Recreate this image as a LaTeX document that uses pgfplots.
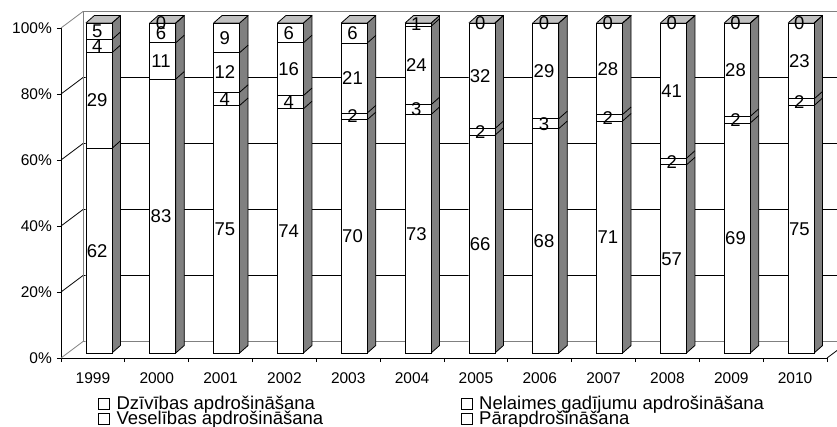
\documentclass[border=0pt]{standalone}
\usepackage{fontspec}
\setmainfont{Liberation Sans}
\usepackage{pgfplots}
\usepackage{pgfplotstable}
\pgfplotsset{compat=1.18}
\definecolor{sidegray}{HTML}{808080}
\definecolor{topgray}{HTML}{C0C0C0}
\definecolor{wallgray}{HTML}{808080}

\pgfplotstableread{
x s1 s2 s3 s4
0 62 29 4 5
1 83 11 6 0
2 75 4 12 9
3 74 4 16 6
4 70 2 21 6
5 73 3 24 1
6 66 2 32 0
7 68 3 29 0
8 71 2 28 0
9 57 2 41 0
10 69 2 28 0
11 75 2 23 0
}\data

\pgfplotstableread{
dx dy
0.2037 0
0.3369 2.273
0.3369 102.273
0.2037 100
0.2037 0
}\sideface

\pgfplotstableread{
dx dy
-0.2037 100
0.2037 100
0.3369 102.273
-0.0705 102.273
-0.2037 100
}\topface

\newcommand{\tot}{(\thisrow{s1}+\thisrow{s2}+\thisrow{s3}+\thisrow{s4})}
\pgfplotsset{legsq/.style={legend image code/.code={\draw[line width=0.8bp, draw=black, fill=white] (0bp,-5.5bp) rectangle (11.5bp,5.5bp); \path (18bp,0bp);}}}

\begin{document}
\begin{tikzpicture}
\useasboundingbox (-61bp,-69bp) rectangle (776bp,358bp);
\begin{axis}[
  at={(0,0)}, anchor=south west,
  scale only axis, width=766bp, height=330bp,
  xmin=-0.5, xmax=11.5, ymin=0, ymax=100,
  enlargelimits=false, clip=false,
  axis lines*=left, axis line style={-, line width=0.8bp, black},
  tick align=outside, major tick length=4bp,
  tick style={line width=0.8bp, black},
  xtick={-0.5,0.5,...,11.5},
  x tick label as interval,
  xticklabels={1999,2000,2001,2002,2003,2004,2005,2006,2007,2008,2009,2010},
  ytick={0,20,40,60,80,100},
  yticklabels={0\%,20\%,40\%,60\%,80\%,100\%},
  tick label style={font=\fontsize{15.5bp}{18bp}\selectfont, inner sep=0pt},
  xticklabel style={anchor=base, yshift=-21bp},
  yticklabel style={anchor=east, xshift=-5bp},
  /pgf/number format/assume math mode=true,
  legend columns=2,
  legend cell align=left,
  legend style={draw=none, fill=none, at={(0,0)}, anchor=north west, xshift=37bp, yshift=-38.6bp,
    inner sep=0pt, outer sep=0pt, column sep=0pt, row sep=1bp,
    font=\fontsize{18.5bp}{20bp}\selectfont,
    nodes={inner sep=0pt, text height=13bp, text depth=1bp, anchor=west}},
]
% walls
\addplot[forget plot, wallgray, line width=0.8bp] coordinates {(-0.5,0) (-0.155,5) (11.845,5)};
\addplot[forget plot, black, line width=0.8bp] coordinates {(11.5,0) (11.845,5)};
\addplot[forget plot, black, line width=0.8bp] coordinates {(-0.5,20) (-0.155,25) (11.845,25)};
\addplot[forget plot, black, line width=0.8bp] coordinates {(-0.5,40) (-0.155,45) (11.845,45)};
\addplot[forget plot, black, line width=0.8bp] coordinates {(-0.5,60) (-0.155,65) (11.845,65)};
\addplot[forget plot, black, line width=0.8bp] coordinates {(-0.5,80) (-0.155,85) (11.845,85)};
\addplot[forget plot, wallgray, line width=0.8bp] coordinates {(-0.5,100) (-0.155,105) (11.845,105)};
\addplot[forget plot, wallgray, line width=0.8bp] coordinates {(-0.155,5) (-0.155,105)};
% side and top faces
\pgfplotsinvokeforeach{0,...,11}{
  \addplot[forget plot, fill=sidegray, draw=black, line width=0.8bp, line join=round, xshift=6bp, yshift=5bp]
    table[x expr=\thisrow{dx}+#1, y=dy]{\sideface};
  \addplot[forget plot, fill=topgray, draw=black, line width=0.8bp, line join=round, xshift=6bp, yshift=5bp]
    table[x expr=\thisrow{dx}+#1, y=dy]{\topface};
}
% front faces (cumulative, drawn from the top down)
\addplot[forget plot, ybar, bar width=26bp, bar shift=0pt, fill=white, draw=black, line width=0.8bp, xshift=6bp, yshift=5bp]
  table[x=x, y expr={100*\tot/\tot}]{\data};
\addplot[forget plot, ybar, bar width=26bp, bar shift=0pt, fill=white, draw=black, line width=0.8bp, xshift=6bp, yshift=5bp]
  table[x=x, y expr={100*(\thisrow{s1}+\thisrow{s2}+\thisrow{s3})/\tot}]{\data};
\addplot[forget plot, ybar, bar width=26bp, bar shift=0pt, fill=white, draw=black, line width=0.8bp, xshift=6bp, yshift=5bp]
  table[x=x, y expr={100*(\thisrow{s1}+\thisrow{s2})/\tot}]{\data};
\addplot[forget plot, ybar, bar width=26bp, bar shift=0pt, fill=white, draw=black, line width=0.8bp, xshift=6bp, yshift=5bp]
  table[x=x, y expr={100*\thisrow{s1}/\tot}]{\data};
% diagonal boundaries on side faces
\addplot[forget plot, black, line width=0.8bp, xshift=6bp, yshift=5bp, quiver={u=0.1332, v=2.273}]
  table[x expr=\thisrow{x}+0.2037, y expr={100*\thisrow{s1}/\tot}]{\data};
\addplot[forget plot, black, line width=0.8bp, xshift=6bp, yshift=5bp, quiver={u=0.1332, v=2.273}]
  table[x expr=\thisrow{x}+0.2037, y expr={100*(\thisrow{s1}+\thisrow{s2})/\tot}]{\data};
\addplot[forget plot, black, line width=0.8bp, xshift=6bp, yshift=5bp, quiver={u=0.1332, v=2.273}]
  table[x expr=\thisrow{x}+0.2037, y expr={100*(\thisrow{s1}+\thisrow{s2}+\thisrow{s3})/\tot}]{\data};
% value labels
\pgfplotsset{lbl/.style={forget plot, draw=none, nodes near coords, point meta=explicit,
  every node near coord/.style={anchor=center, inner sep=0pt, text=black, font=\fontsize{18.5bp}{20bp}\selectfont}}}
\addplot[lbl] table[x expr=\thisrow{x}+0.067, y expr={100*(\thisrow{s1}/2)/\tot+1.515}, meta=s1]{\data};
\addplot[lbl] table[x expr=\thisrow{x}+0.067, y expr={100*(\thisrow{s1}+\thisrow{s2}/2)/\tot+1.515}, meta=s2]{\data};
\addplot[lbl] table[x expr=\thisrow{x}+0.067, y expr={100*(\thisrow{s1}+\thisrow{s2}+\thisrow{s3}/2)/\tot+1.515}, meta=s3]{\data};
\addplot[lbl] table[x expr=\thisrow{x}+0.067, y expr={100*(\thisrow{s1}+\thisrow{s2}+\thisrow{s3}+\thisrow{s4}/2)/\tot+1.515}, meta=s4]{\data};
% legend
\addlegendimage{legsq}
\addlegendentry{\makebox[344bp][l]{Dzīvības apdrošināšana}}
\addlegendimage{legsq}
\addlegendentry{Nelaimes gadījumu apdrošināšana}
\addlegendimage{legsq}
\addlegendentry{\makebox[344bp][l]{Veselības apdrošināšana}}
\addlegendimage{legsq}
\addlegendentry{Pārapdrošināšana}
\end{axis}
\end{tikzpicture}
\end{document}
